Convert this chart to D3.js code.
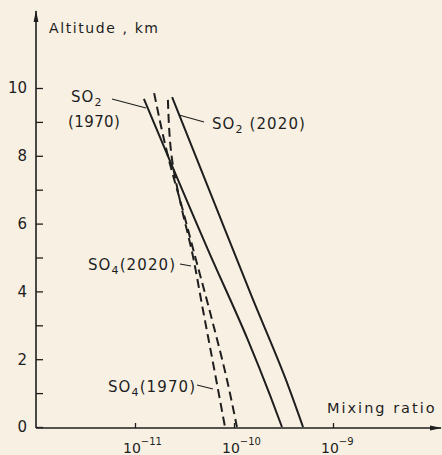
<!DOCTYPE html>
<html>
<head>
<meta charset="utf-8">
<script src="https://cdn.jsdelivr.net/npm/d3@7/dist/d3.min.js"></script>
<style>
  html, body { margin: 0; padding: 0; background: #f8f1e3; }
  svg { display: block; }
  text { font-family: "DejaVu Sans", sans-serif; fill: #1e1e1e; }
</style>
</head>
<body>
<svg id="chart" width="442" height="455"></svg>
<script>
// Altitude profiles (km) and mixing ratios for SO2 and SO4
const so2_1970_alt = [9.68, 5.16, 2.57, 0.94, 0];
const so2_1970_val = [1.23e-11, 5.59e-11, 1.38e-10, 2.31e-10, 3.05e-10];

const so2_2020_alt = [9.73, 6.78, 3.83, 1.39, 0];
const so2_2020_val = [2.37e-11, 6.0e-11, 1.52e-10, 3.35e-10, 4.98e-10];

const so4_1970_alt = [9.65, 7.88, 6.55, 5.16, 3.45, 1.74, 0];
const so4_1970_val = [2.15e-11, 2.37e-11, 2.91e-11, 3.77e-11, 4.86e-11, 6.28e-11, 8.11e-11];

const so4_2020_alt = [9.85, 7.88, 6.49, 5.04, 3.16, 1.39, 0];
const so4_2020_val = [1.56e-11, 2.2e-11, 2.98e-11, 4.04e-11, 6.0e-11, 8.5e-11, 1.07e-10];

const altTicks = [0, 1, 2, 3, 4, 5, 6, 7, 8, 9, 10];
const ratioTicks = [1e-11, 1e-10, 1e-9];
const ratioExponents = ["-11", "-10", "-9"];

const ink = "#1e1e1e";
const svg = d3.select("#chart");

const x = d3.scaleLog().domain([1e-11, 1e-9]).range([135, 333]);
const y = d3.scaleLinear().domain([0, 10]).range([427, 88]);

const originX = 36, originY = 428;

// Arrowhead
svg.append("defs").append("marker")
  .attr("id", "arrow").attr("viewBox", "0 0 12 6")
  .attr("refX", 11).attr("refY", 3)
  .attr("markerWidth", 12).attr("markerHeight", 6)
  .attr("markerUnits", "userSpaceOnUse")
  .attr("orient", "auto")
  .append("path").attr("d", "M0,0.6 L12,3 L0,5.4 Z").attr("fill", ink);

// Axis lines
svg.append("line").attr("x1", originX).attr("y1", originY).attr("x2", originX).attr("y2", 11)
  .attr("stroke", ink).attr("stroke-width", 1.6).attr("marker-end", "url(#arrow)");
svg.append("line").attr("x1", originX).attr("y1", originY).attr("x2", 441).attr("y2", originY)
  .attr("stroke", ink).attr("stroke-width", 1.6).attr("marker-end", "url(#arrow)");

// Altitude axis: ticks pointing inward, labels on even values
const yAxis = d3.axisLeft(y).tickValues(altTicks).tickSize(-7).tickPadding(9)
  .tickFormat(d => d % 2 === 0 ? d : "");
const gy = svg.append("g").attr("transform", `translate(${originX},0)`).call(yAxis);
gy.select(".domain").remove();
gy.selectAll(".tick line").attr("stroke", ink).attr("stroke-width", 1.3);
gy.selectAll(".tick text").attr("font-size", 15).attr("font-family", "DejaVu Sans").attr("fill", ink);

// Mixing-ratio axis: short upward ticks, power-of-ten labels
const xAxis = d3.axisBottom(x).tickValues(ratioTicks).tickSize(-5).tickFormat("");
const gx = svg.append("g").attr("transform", `translate(0,${originY})`).call(xAxis);
gx.select(".domain").remove();
gx.selectAll(".tick line").attr("stroke", ink).attr("stroke-width", 1.3);

ratioTicks.forEach((v, i) => {
  const t = svg.append("text").attr("x", x(v) - 12).attr("y", 453).attr("font-size", 14);
  t.append("tspan").text("10");
  t.append("tspan").attr("dy", -8).attr("font-size", 10).text("\u2212" + ratioExponents[i].slice(1));
});

// Axis titles
svg.append("text").attr("x", 49).attr("y", 33).attr("font-size", 14)
  .attr("letter-spacing", 1.6).text("Altitude , km");
svg.append("text").attr("x", 327).attr("y", 413).attr("font-size", 14.5)
  .attr("letter-spacing", 2).text("Mixing ratio");

// Profiles
const line = d3.line().curve(d3.curveMonotoneY);
function profile(alts, vals, dashed) {
  const pts = alts.map((a, i) => [x(vals[i]), y(a)]);
  svg.append("path").attr("d", line(pts))
    .attr("fill", "none").attr("stroke", ink).attr("stroke-width", 2)
    .attr("stroke-dasharray", dashed ? "9,5" : null);
}
profile(so2_1970_alt, so2_1970_val, false);
profile(so2_2020_alt, so2_2020_val, false);
profile(so4_1970_alt, so4_1970_val, true);
profile(so4_2020_alt, so4_2020_val, true);

// Curve labels with leaders
function label(xp, yp, base, sub, rest) {
  const t = svg.append("text").attr("x", xp).attr("y", yp).attr("font-size", 15).attr("letter-spacing", 1.1);
  t.append("tspan").text(base);
  t.append("tspan").attr("dy", 4).attr("font-size", 11).text(sub);
  if (rest) t.append("tspan").attr("dy", -4).text(rest);
  return t;
}
function leader(x1, y1, x2, y2) {
  svg.append("line").attr("x1", x1).attr("y1", y1).attr("x2", x2).attr("y2", y2)
    .attr("stroke", ink).attr("stroke-width", 1.2);
}

label(71, 102, "SO", "2");
svg.append("text").attr("x", 68).attr("y", 127).attr("font-size", 15).attr("letter-spacing", 0.4).text("(1970)");
leader(112, 99, 146, 108);

label(212, 129, "SO", "2", " (2020)");
leader(179, 115, 204, 122);

label(88, 270, "SO", "4", "(2020)");
leader(180, 264, 191, 266);

label(108, 392, "SO", "4", "(1970)");
leader(197, 385, 213, 389);
</script>
</body>
</html>
